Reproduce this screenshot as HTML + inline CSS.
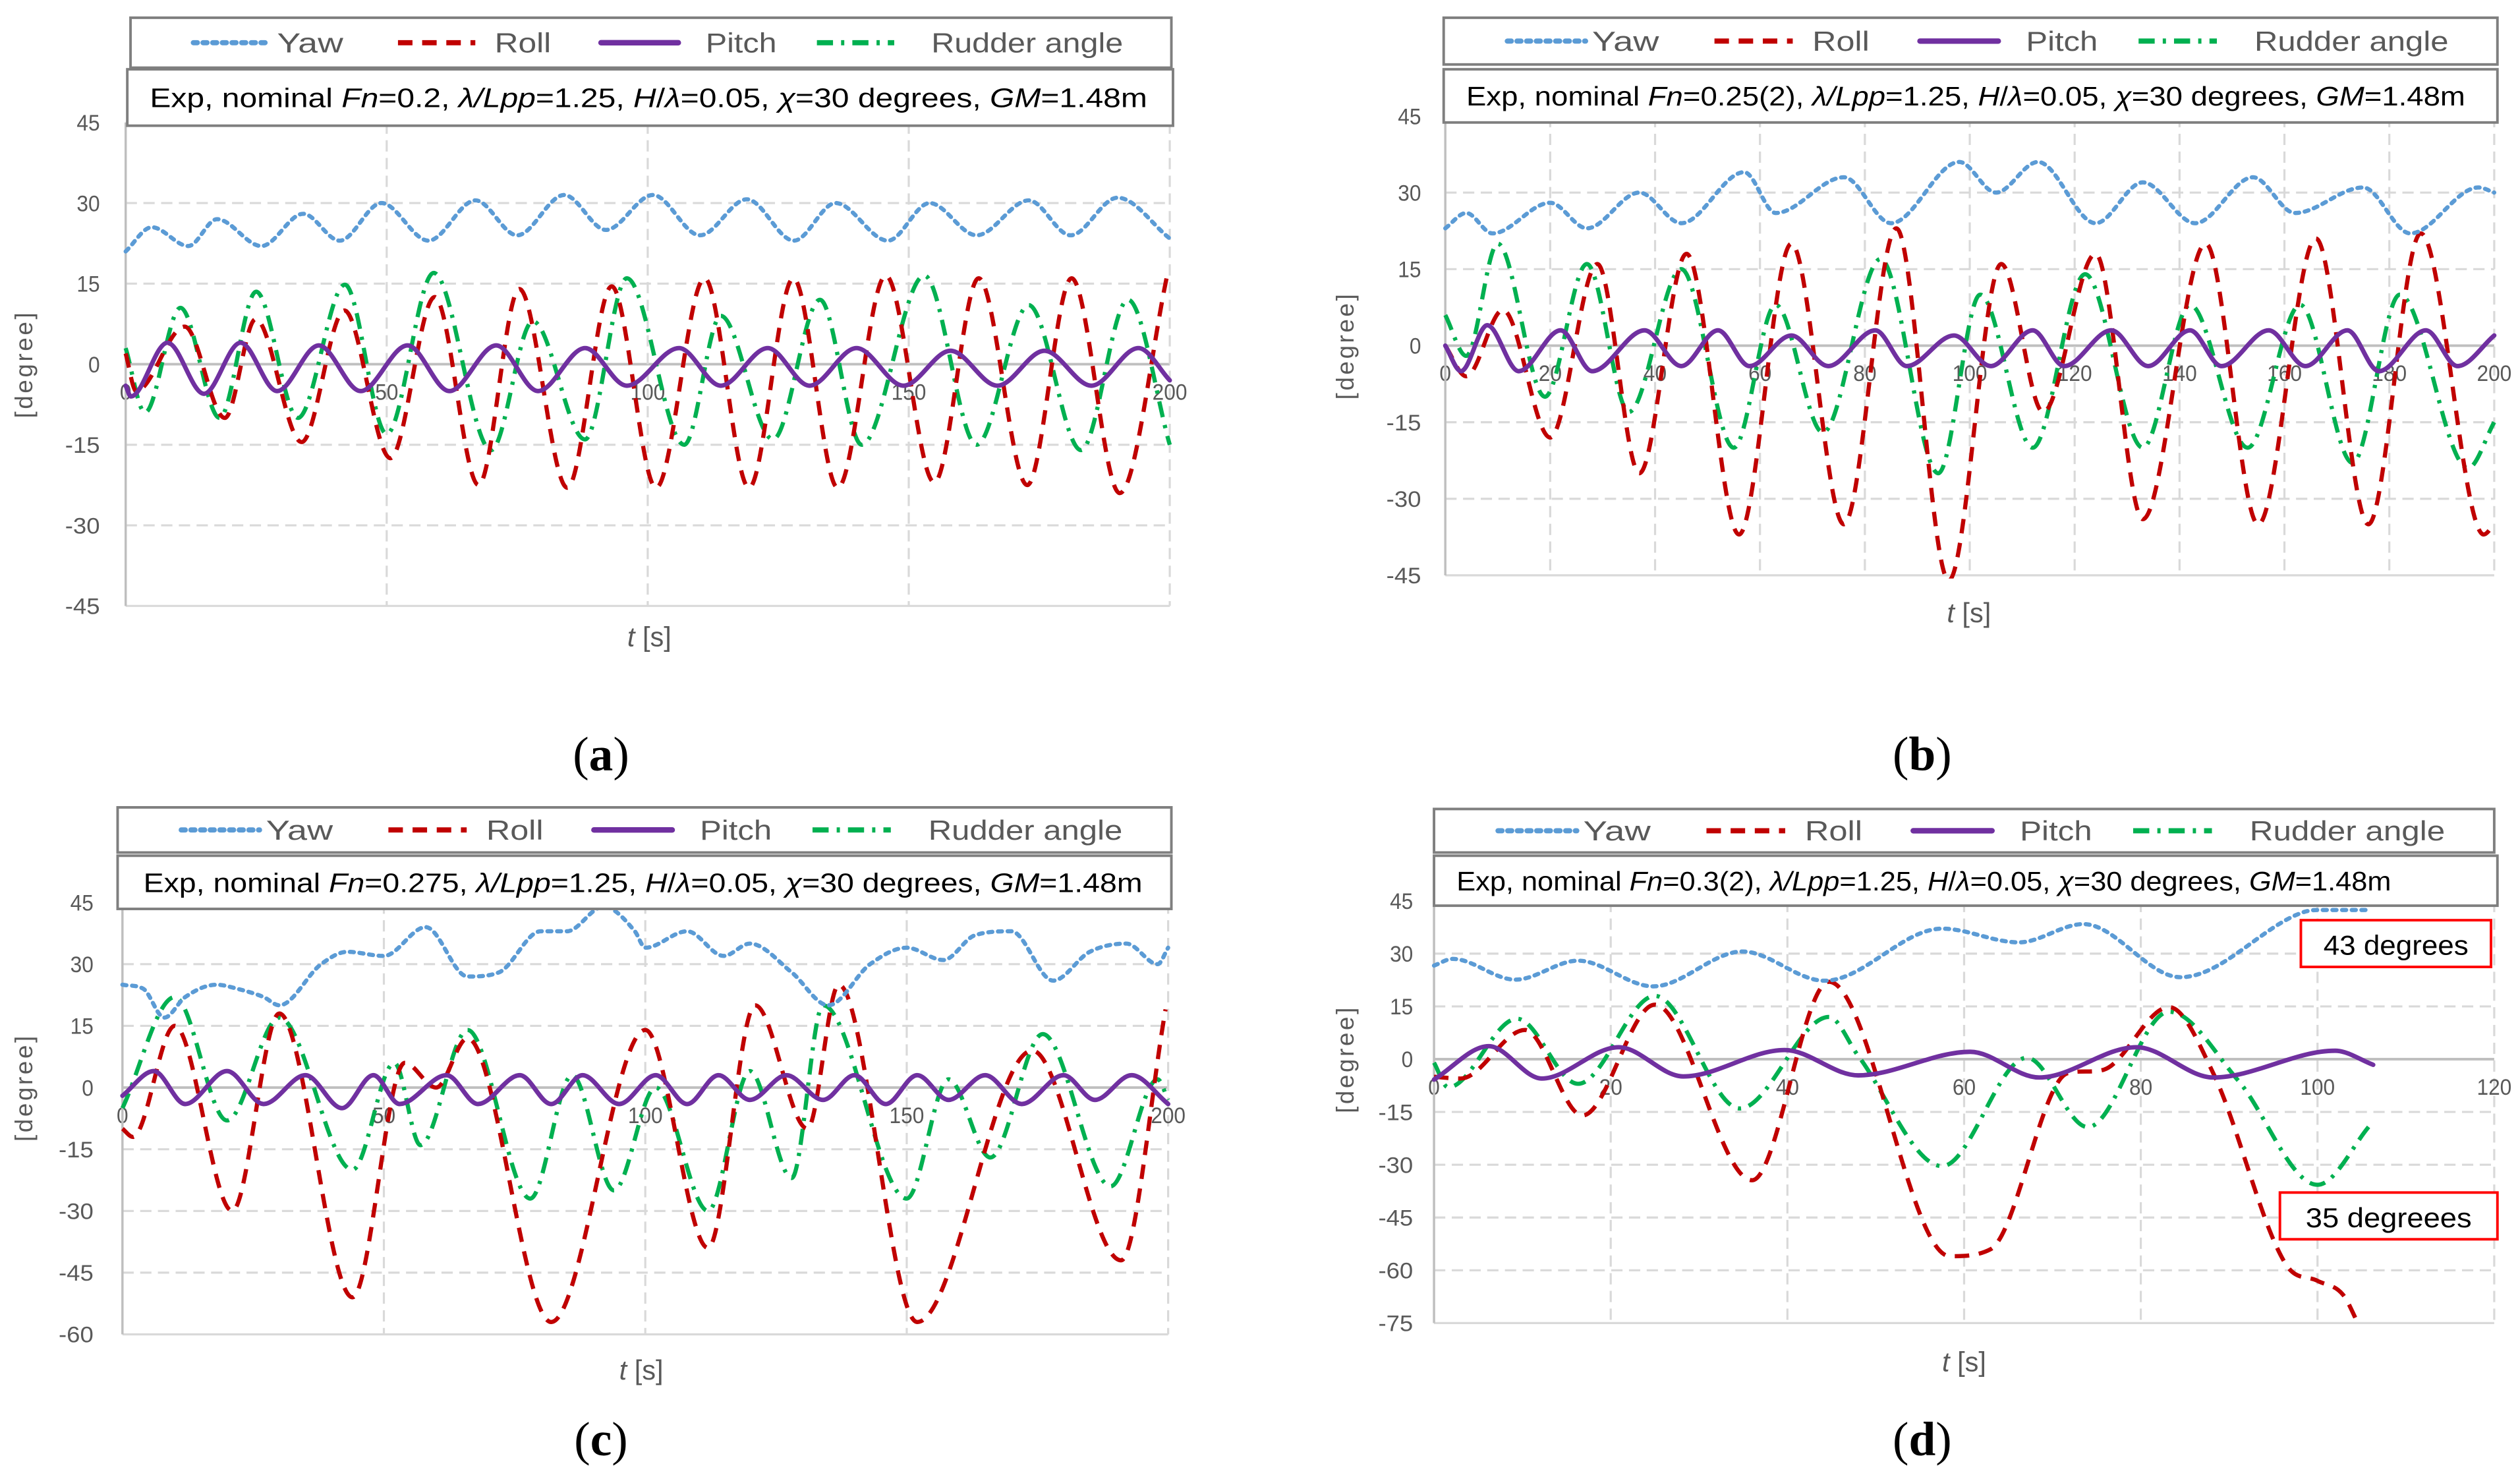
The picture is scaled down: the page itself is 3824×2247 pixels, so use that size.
<!DOCTYPE html>
<html><head><meta charset="utf-8"><style>html,body{margin:0;padding:0;background:#fff}svg{display:block}</style></head>
<body>
<svg id="fig" xmlns="http://www.w3.org/2000/svg" width="3824" height="2247" viewBox="0 0 1564 919" preserveAspectRatio="none" font-family="Liberation Sans, sans-serif"></svg>
<script>
// ---- Panel (a) data ----
const aYawT=[0,5,12,17.5,26,34,41,49,58,67,75,84,92,101,110,119,128,136,146,154,163,173,181,190,200];
const aYawV=[21,25.5,22,27,22,28,23,30,23,30.5,24,31.5,25,31.5,24,30.7,23,30,23,30,24,30.5,24,31,23.4];
const aRollT=[0,2,11.3,19,24.9,33.7,41.9,50.7,59.2,67.6,75.4,84.6,93.1,101.6,110.9,119.4,127.9,136.4,145.6,154.9,163.4,172.7,181.2,190.4,199.6];
const aRollV=[2,-5,7,-10,8.4,-14.5,10,-17.5,12.5,-22.5,14,-23,14.5,-23,16,-23,16,-23,16.5,-22,16,-22.5,16,-24,17];
const aRudT=[0,3.7,10.5,18,25,33,42,50,59,70,78,88,96,107,114,124,133,141,153,163,173,183,192,200];
const aRudV=[3,-9,10.5,-10,13.5,-10,14.8,-13,17,-16,8,-14,16,-15,9,-14,12,-15,16.5,-15,11,-16,12,-15];
const aPitT=[0,1,8,15,22,29,37,45,54,62,71,79,88,96,106,114,123,131,140,149,158,167,176,185,194,200];
const aPitV=[-4,-6,4,-5.5,4,-5,3.5,-5,3.5,-5,3.5,-5,3,-4,3,-4,3,-4,3,-4,2.5,-4,2.5,-4,3,-3];
// ---- Panel (b) data ----
const bYawT=[0,4,9,20,27,37,45,57,63,76,85,98,105,113,124,133,143,154,162,175,184,197,200];
const bYawV=[23,26,22,28,23,30,24,34,26,33,24,36,30,36,24,32,24,33,26,31,22,31,30];
const bRollT=[0,4,11,20,29,37,46,56,66,76,86,96,106,114,124,133,145,155,166,176,186,198,200];
const bRollV=[0,-6,7,-18,16,-25,18,-37,20,-35,23,-46,16,-13,18,-34,20,-35,21,-35,22,-37,-35];
const bRudT=[0,4,10,19,27,35,45,55,63,72,83,94,102,112,122,133,142,153,163,173,182,195,200];
const bRudV=[6,-2,20,-10,16,-13,15,-20,8,-17,17,-25,10,-20,14,-20,8,-20,8,-23,10,-24,-15];
const bPitT=[0,3,8,14,22,28,38,45,52,58,66,73,82,88,97,104,112,118,127,134,142,148,157,164,172,178,187,193,200];
const bPitV=[0,-5,4,-5,3,-5,3,-4,3,-4,2,-4,3,-4,2,-4,3,-4,3,-4,3,-4,3,-4,3,-5,3,-4,2];
// ---- Panel (c) data ----
const cYawT=[0,4,8,12,18,22,27,30,38,43,50,58,66,72,80,85,92,98,100,108,115,120,128,135,143,150,157,163,170,178,185,192,198,200];
const cYawV=[25,24,17,22,25,24,22,20,30,33,32,39,27,28,38,38,44,38,34,38,32,35,28,20,30,34,31,37,38,26,33,35,30,34];
const cRollT=[0,2,10,21,30,44,54,60,66,82,100,112,121,131,137,152,174,191,199.5];
const cRollV=[-10,-12,15,-30,18,-51,6,0,12,-57,14,-39,20,-10,25,-57,9,-42,19];
const cRudT=[0,10,20,30,44,52,57,66,78,86,94,102,112,120,128,134,150,158,166,176,189,198,200];
const cRudV=[-5,22,-8,17,-20,6,-14,14,-27,3,-25,0,-30,4,-22,20,-27,2,-17,13,-24,2,-3];
const cPitT=[0,6,12,20,27,35,42,48,53,62,68,76,82,88,95,102,108,114,120,127,134,140,146,152,158,165,172,180,186,193,200];
const cPitV=[-2,4,-4,4,-4,3,-5,3,-4,3,-4,3,-4,3,-4,3,-4,3,-3,3,-3,3,-4,3,-3,3,-4,3,-3,3,-4];
// ---- Panel (d) data ----
const dYawT=[0,2.1,9.2,16.3,24.8,34.9,44.2,57.5,66.2,73.5,84.5,98.3,100,106];
const dYawV=[26.6,28.5,22.6,28,20.7,30.6,22.3,37.1,33.2,38.4,23.3,41.7,42.4,42.4];
const dRollT=[0,3,10.3,16.8,25,36,44.7,58.4,63,71.7,75.8,83.2,88.2,96.5,100,102.9,104.7];
const dRollV=[-5,-5.5,8.3,-16,15.5,-34.4,22,-56,-54,-4,-3,14.8,-4,-58.6,-63,-67,-75.7];
const dRudT=[0,1.6,9.4,16.3,25,34.6,44.7,48,57.5,67.1,74,83.2,91,100,106];
const dRudV=[-1,-8,11.5,-7,18,-14,12,1,-30.4,0.4,-19.3,13.5,-6,-35.7,-18.6];
const dPitT=[0,6.2,12.2,20.9,28.2,39.7,48,60.7,68.5,79.5,88.2,102,106.3];
const dPitV=[-5.8,3.7,-5.5,3.4,-4.9,2.6,-4.6,2.1,-5.2,3.4,-5.2,2.4,-1.6];
// ---- tick labels ----
const aXTicks=[0,50,100,150,200], aYTicks=[45,30,15,0,-15,-30,-45];
const bXTicks=[0,20,40,60,80,100,120,140,160,180,200], bYTicks=[45,30,15,0,-15,-30,-45];
const cXTicks=[0,50,100,150,200], cYTicks=[45,30,15,0,-15,-30,-45,-60];
const dXTicks=[0,20,40,60,80,100,120], dYTicks=[45,30,15,0,-15,-30,-45,-60,-75];

const NS='http://www.w3.org/2000/svg';
const svg=document.getElementById('fig');
function mk(tag,attrs,parent){const e=document.createElementNS(NS,tag);for(const k in attrs)e.setAttribute(k,attrs[k]);(parent||svg).appendChild(e);return e;}
const styles={
 yaw:{stroke:'#5b9bd5',dash:'2.5 3.5',cap:'round',w:2.6},
 roll:{stroke:'#c00000',dash:'9 6',cap:'butt',w:2.6},
 pitch:{stroke:'#7030a0',dash:'',cap:'round',w:2.8},
 rudder:{stroke:'#00b050',dash:'10 5 2 5',cap:'butt',w:2.6}
};
// monotone cubic (Fritsch–Carlson) — no overshoot beyond data extrema
function spline(pts){
 const n=pts.length;const d=[],m=[];
 for(let i=0;i<n-1;i++){d.push((pts[i+1][1]-pts[i][1])/(pts[i+1][0]-pts[i][0]));}
 for(let i=0;i<n;i++){
  if(i===0)m.push(d[0]);else if(i===n-1)m.push(d[n-2]);
  else if(d[i-1]*d[i]<=0)m.push(0);
  else{let v=(d[i-1]+d[i])/2;const lim=3*Math.min(Math.abs(d[i-1]),Math.abs(d[i]));if(Math.abs(v)>lim)v=Math.sign(v)*lim;m.push(v);}
 }
 let s='M'+pts[0][0].toFixed(2)+','+pts[0][1].toFixed(2);
 for(let i=0;i<n-1;i++){const h=pts[i+1][0]-pts[i][0];
  const c1=[pts[i][0]+h/3,pts[i][1]+m[i]*h/3],c2=[pts[i+1][0]-h/3,pts[i+1][1]-m[i+1]*h/3];
  s+=' C'+c1[0].toFixed(2)+','+c1[1].toFixed(2)+' '+c2[0].toFixed(2)+','+c2[1].toFixed(2)+' '+pts[i+1][0].toFixed(2)+','+pts[i+1][1].toFixed(2);}
 return s;}

function panel(P){
 const g=mk('g',{});
 
 
 const xs=t=>P.x0+(t-P.xmin)/(P.xmax-P.xmin)*(P.x1-P.x0);
 const ys=v=>P.y0+(P.ymax-v)/(P.ymax-P.ymin)*(P.y1-P.y0);
 P.yt.forEach(v=>{const l=mk('line',{x1:P.x0,x2:P.x1,y1:ys(v),y2:ys(v),stroke:v===0?'#bfbfbf':'#d9d9d9','stroke-width':v===0?1.6:1.3,'stroke-dasharray':(v===0||v===P.ymin)?'':'7 4'},g);
  
  
  const t=mk('text',{x:P.ylx,y:ys(v)+5,'text-anchor':'end','font-size':14,fill:'#595959',textLength:(String(v).length*7.2),lengthAdjust:'spacingAndGlyphs'},g);t.textContent=v;
  
  });
 P.xt.forEach((v,i)=>{const l=mk('line',{x1:xs(v),x2:xs(v),y1:P.y0,y2:P.y1,stroke:'#d9d9d9','stroke-width':1.3,'stroke-dasharray':i===0?'':'7 4'},g);
  
  
  const t=mk('text',{x:xs(v),y:ys(0)+22,'text-anchor':'middle','font-size':14,fill:'#595959',textLength:(String(v).length*7.2),lengthAdjust:'spacingAndGlyphs'},g);t.textContent=v;
  
  });
 const ax=mk('line',{x1:P.x0,x2:P.x0,y1:P.y0,y2:P.y1,stroke:'#bfbfbf','stroke-width':1.4},g);
 
 
 const cp=mk('clipPath',{id:'clip-'+P.id},g);mk('rect',{x:P.x0-2,y:P.y0-40,width:P.x1-P.x0+4,height:P.y1-P.y0+42},cp);
 ['rudder','roll','yaw','pitch'].forEach(k=>{const T=P.s[k][0],V=P.s[k][1];const pts=T.map((t,i)=>[xs(t),ys(V[i])]);const st=styles[k];
  const p=mk('path',{d:spline(pts),fill:'none',stroke:st.stroke,'stroke-width':st.w,'stroke-dasharray':st.dash,'stroke-linecap':st.cap,'clip-path':'url(#clip-'+P.id+')'},g);
  
  });
 const yl=mk('text',{x:0,y:0,transform:`translate(${P.ytx},${ys(0)}) rotate(-90)`,'text-anchor':'middle','font-size':15,fill:'#595959','letter-spacing':'1.5'},g);yl.textContent='[degree]';
 
 
 const xl=mk('text',{x:P.txx,y:P.txy,'text-anchor':'middle','font-size':17,fill:'#595959'},g);
 
 
 xl.innerHTML='<tspan font-style="italic">t</tspan> [s]';
 const L=P.leg;const lb=mk('rect',{x:L[0],y:L[1],width:L[2]-L[0],height:L[3]-L[1],fill:'#fff',stroke:'#7f7f7f','stroke-width':1.6},g);
 
 
 const W=L[2]-L[0],cy=(L[1]+L[3])/2;
 const ent=[['yaw','Yaw',39,91,41],['roll','Roll',166,226,35],['pitch','Pitch',292,357,44],['rudder','Rudder angle',426,497,119]];
 ent.forEach(e=>{const st=styles[e[0]];const f=W/646;
  const ln=mk('line',{x1:L[0]+e[2]*f,x2:L[0]+(e[2]+48)*f,y1:cy,y2:cy,stroke:st.stroke,'stroke-width':st.w+0.6,'stroke-dasharray':st.dash,'stroke-linecap':st.cap},g);
  
  
  const t=mk('text',{x:L[0]+e[3]*f,y:cy+6,'font-size':17,fill:'#595959',textLength:e[4]*f,lengthAdjust:'spacingAndGlyphs'},g);t.textContent=e[1];
  
  });
 const B=P.tb;const tr=mk('rect',{x:B[0],y:B[1],width:B[2]-B[0],height:B[3]-B[1],fill:'#fff',stroke:'#7f7f7f','stroke-width':1.6},g);
 
 
 const tt=mk('text',{x:B[0]+P.tpad,y:(B[1]+B[3])/2+6,'font-size':16.5,fill:'#000',textLength:P.tlen,lengthAdjust:'spacingAndGlyphs'},g);
 
 
 tt.innerHTML='Exp, nominal <tspan font-style="italic">Fn</tspan>='+P.fn+', <tspan font-style="italic">λ/Lpp</tspan>=1.25, <tspan font-style="italic">H</tspan>/<tspan font-style="italic">λ</tspan>=0.05, <tspan font-style="italic">χ</tspan>=30 degrees, <tspan font-style="italic">GM</tspan>=1.48m';
 const pl=mk('text',{x:P.lab[0],y:P.lab[1]+10,'text-anchor':'middle','font-size':30,'font-family':'Liberation Serif, serif',fill:'#000'},g);
 
 
 pl.innerHTML='(<tspan font-weight="bold">'+P.id+'</tspan>)';
 (P.ann||[]).forEach(a=>{const r=mk('rect',{x:a[0],y:a[1],width:a[2]-a[0],height:a[3]-a[1],fill:'#fff',stroke:'#ff0000','stroke-width':1.6},g);
  
  
  const t=mk('text',{x:(a[0]+a[2])/2,y:(a[1]+a[3])/2+7,'text-anchor':'middle','font-size':17,fill:'#000',textLength:a[5],lengthAdjust:'spacingAndGlyphs'},g);t.textContent=a[4];
  
  });
}
panel({id:'a',x0:78,x1:726,y0:76,y1:376,xmin:0,xmax:200,ymin:-45,ymax:45,xt:aXTicks,yt:aYTicks,ylx:62,ytx:20,txx:403,txy:401,
 leg:[81,11,727,42],tb:[79,43,728,78],tpad:14,tlen:619,fn:'0.2',lab:[373,468],
 s:{yaw:[aYawT,aYawV],roll:[aRollT,aRollV],pitch:[aPitT,aPitV],rudder:[aRudT,aRudV]}});
panel({id:'b',x0:897,x1:1548,y0:72,y1:357,xmin:0,xmax:200,ymin:-45,ymax:45,xt:bXTicks,yt:bYTicks,ylx:882,ytx:840,txx:1222,txy:386,
 leg:[896,11,1550,40],tb:[896,43,1550,76],tpad:14,tlen:620,fn:'0.25(2)',lab:[1193,468],
 s:{yaw:[bYawT,bYawV],roll:[bRollT,bRollV],pitch:[bPitT,bPitV],rudder:[bRudT,bRudV]}});
panel({id:'c',x0:76,x1:725,y0:560,y1:828,xmin:0,xmax:200,ymin:-60,ymax:45,xt:cXTicks,yt:cYTicks,ylx:58,ytx:20,txx:398,txy:856,
 leg:[73,501,727,529],tb:[73,531,727,564],tpad:16,tlen:620,fn:'0.275',lab:[373,893],
 s:{yaw:[cYawT,cYawV],roll:[cRollT,cRollV],pitch:[cPitT,cPitV],rudder:[cRudT,cRudV]}});
panel({id:'d',x0:890,x1:1548,y0:559,y1:821,xmin:0,xmax:120,ymin:-75,ymax:45,xt:dXTicks,yt:dYTicks,ylx:877,ytx:840,txx:1219,txy:851,
 leg:[890,502,1548,529],tb:[890,531,1550,562],tpad:14,tlen:580,fn:'0.3(2)',lab:[1193,893],
 ann:[[1428,571,1546,600,'43 degrees',90],[1415,740,1550,769,'35 degreees',103]],
 s:{yaw:[dYawT,dYawV],roll:[dRollT,dRollV],pitch:[dPitT,dPitV],rudder:[dRudT,dRudV]}});
</script>
</body></html>
